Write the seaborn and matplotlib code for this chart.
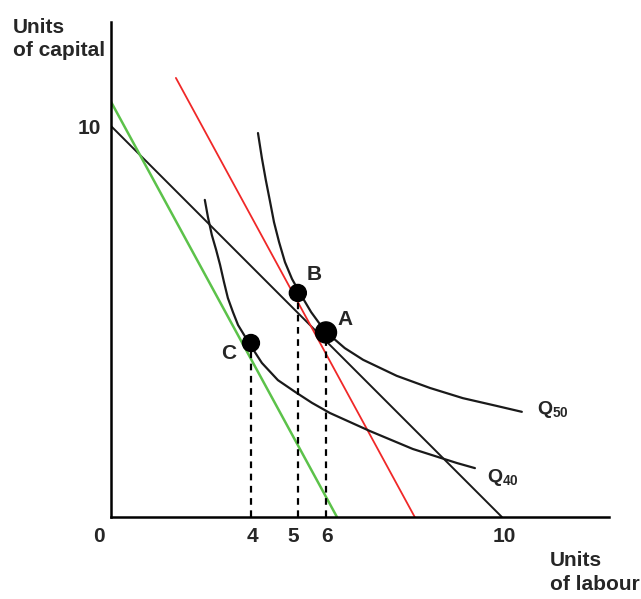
import numpy as np
import pandas as pd
import matplotlib
matplotlib.use('Agg')
import matplotlib.pyplot as plt
import seaborn as sns

# budget lines (labour, capital) end points
black_line_x = [0, 10]
black_line_y = [10, 0]
red_line_x = [1.66, 7.77]
red_line_y = [11.23, 0]
green_line_x = [0, 5.78]
green_line_y = [10.62, 0]

# isoquants
q50_x = [3.76, 3.86, 3.96, 4.07, 4.17, 4.30, 4.45, 4.63, 4.83, 5.12, 5.47, 5.98, 6.45, 7.31, 8.16, 9.00, 9.87, 10.51]
q50_y = [9.82, 9.18, 8.62, 8.06, 7.54, 7.03, 6.52, 6.09, 5.73, 5.24, 4.76, 4.32, 4.02, 3.61, 3.30, 3.04, 2.84, 2.69]
q40_x = [2.40, 2.48, 2.58, 2.69, 2.79, 2.89, 2.99, 3.12, 3.25, 3.53, 3.86, 4.27, 4.71, 5.14, 5.60, 6.11, 6.62, 7.72, 8.85, 9.31]
q40_y = [8.11, 7.67, 7.21, 6.83, 6.45, 6.01, 5.60, 5.24, 4.91, 4.45, 3.94, 3.50, 3.20, 2.92, 2.66, 2.43, 2.20, 1.74, 1.38, 1.25]

# optimum points
point_names = ['C', 'B', 'A']
point_x = [3.58, 4.78, 5.50]
point_y = [4.45, 5.73, 4.72]

labour_ticks = [3.62, 4.65, 5.52, 10.05]
labour_labels = ['4', '5', '6', '10']

sns.set_style('white')
plt.rcParams['font.family'] = ['Liberation Sans', 'DejaVu Sans']
plt.rcParams['mathtext.fontset'] = 'custom'
plt.rcParams['mathtext.bf'] = 'Liberation Sans:bold'
plt.rcParams['mathtext.rm'] = 'Liberation Sans'

fig = plt.figure(figsize=(6.41, 5.99), dpi=100)
ax = fig.add_axes([111 / 641, 82 / 599, 498 / 641, 495 / 599])

sns.lineplot(x=black_line_x, y=black_line_y, color='#1a1a1a', linewidth=1.4, ax=ax)
sns.lineplot(x=red_line_x, y=red_line_y, color='#f02828', linewidth=1.3, ax=ax)
sns.lineplot(x=green_line_x, y=green_line_y, color='#5cc24a', linewidth=1.8, ax=ax)
sns.lineplot(x=q50_x, y=q50_y, color='#1a1a1a', linewidth=1.6, sort=False, ax=ax)
sns.lineplot(x=q40_x, y=q40_y, color='#1a1a1a', linewidth=1.6, sort=False, ax=ax)

# dashed drops to the labour axis
for px, py in zip(point_x, point_y):
    ax.plot([px, px], [0, py], color='black', linestyle=(0, (3, 2.5)), linewidth=1.6)

pts = pd.DataFrame({'x': point_x, 'y': point_y, 'name': point_names})
sns.scatterplot(data=pts, x='x', y='y', color='black', s=[150, 150, 230],
                edgecolor='black', zorder=5, ax=ax, legend=False)

ax.text(3.02, 4.19, 'C', fontsize=15, fontweight='bold', ha='center', va='center')
ax.text(5.19, 6.19, 'B', fontsize=15, fontweight='bold', ha='center', va='center')
ax.text(5.98, 5.04, 'A', fontsize=15, fontweight='bold', ha='center', va='center')
ax.text(10.9, 2.76, r'$\mathbf{Q}_{\mathbf{50}}$', fontsize=14, ha='left', va='center')
ax.text(9.62, 1.0, r'$\mathbf{Q}_{\mathbf{40}}$', fontsize=14, ha='left', va='center')

ax.set_xlim(0, 12.74)
ax.set_ylim(0, 12.66)
sns.despine(ax=ax)
for side in ['left', 'bottom']:
    ax.spines[side].set_linewidth(1.8)
    ax.spines[side].set_color('black')

ax.set_xticks(labour_ticks)
ax.set_xticklabels(labour_labels)
ax.set_yticks([10])
ax.set_yticklabels(['10'])
ax.tick_params(length=0, labelsize=15, pad=7)
for lab in ax.get_xticklabels() + ax.get_yticklabels():
    lab.set_fontweight('bold')
ax.set_xlabel('')
ax.set_ylabel('')
ax.text(-0.3, -0.25, '0', fontsize=15, fontweight='bold', ha='center', va='top', clip_on=False)

fig.text(13 / 641, 1 - 18 / 599, 'Units\nof capital', fontsize=15, fontweight='bold',
         ha='left', va='top', linespacing=1.3)
fig.text(550 / 641, 1 - 551 / 599, 'Units\nof labour', fontsize=15, fontweight='bold',
         ha='left', va='top', linespacing=1.3)

fig.savefig('out.png', dpi=100)
